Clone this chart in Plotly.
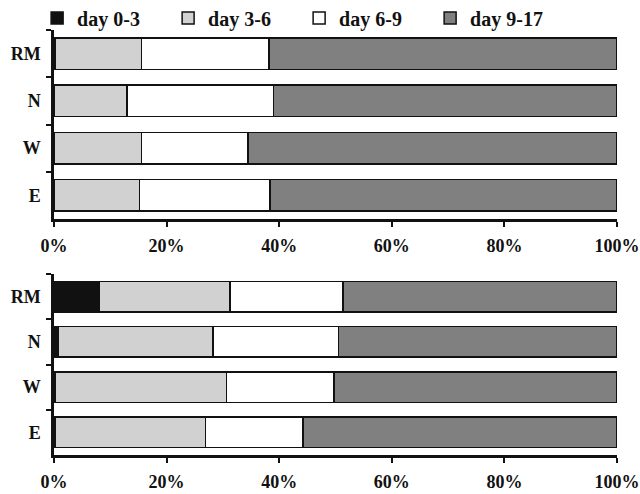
import plotly.graph_objects as go
from plotly.subplots import make_subplots

categories = ["RM", "N", "W", "E"]
series_names = ["day 0-3", "day 3-6", "day 6-9", "day 9-17"]
colors = ["#111111", "#d0d1d0", "#ffffff", "#808080"]

# top panel (% of total)
top_values = {
    "day 0-3": [0.3, 0.0, 0.0, 0.0],
    "day 3-6": [15.2, 13.0, 15.5, 15.2],
    "day 6-9": [22.7, 26.0, 19.0, 23.2],
    "day 9-17": [61.8, 61.0, 65.5, 61.6],
}
# bottom panel (% of total)
bottom_values = {
    "day 0-3": [8.0, 0.8, 0.2, 0.2],
    "day 3-6": [23.3, 27.4, 30.4, 26.7],
    "day 6-9": [20.0, 22.3, 19.1, 17.3],
    "day 9-17": [48.7, 49.5, 50.3, 55.8],
}
x_ticks = [0, 20, 40, 60, 80, 100]
x_tick_labels = ["0%", "20%", "40%", "60%", "80%", "100%"]

FONT = "Liberation Serif"
H = 494.0

fig = make_subplots(rows=2, cols=1)

for i, name in enumerate(series_names):
    for row, vals in ((1, top_values), (2, bottom_values)):
        fig.add_trace(
            go.Bar(
                y=categories, x=vals[name], name=name, orientation="h",
                marker=dict(color=colors[i], line=dict(color="#111111", width=1.5)),
                showlegend=(row == 1), legendgroup=name,
            ),
            row=row, col=1,
        )

fig.update_layout(
    barmode="stack", bargap=0.33,
    width=640, height=494,
    margin=dict(l=54, r=23, t=0, b=0, autoexpand=False),
    paper_bgcolor="white", plot_bgcolor="white",
    font=dict(family=FONT, size=18, color="#111111", weight="bold"),
    legend=dict(
        orientation="h", xref="container", x=0.058, xanchor="left",
        yref="container", y=1 - 18 / H, yanchor="middle",
        font=dict(family=FONT, size=20, weight="bold"),
        entrywidth=86, entrywidthmode="pixels", traceorder="normal",
        itemclick=False, bgcolor="rgba(0,0,0,0)",
    ),
)

axis_common_x = dict(
    range=[0, 100], tickvals=x_ticks, ticktext=x_tick_labels,
    showline=True, linecolor="#111111", linewidth=2.5,
    ticks="outside", ticklen=5, tickwidth=1.5, tickcolor="#111111",
    showgrid=False, zeroline=False, ticklabelstandoff=4, automargin=False,
    tickfont=dict(family=FONT, size=18, weight="bold"),
)
axis_common_y = dict(
    categoryorder="array", categoryarray=categories, autorange=False,
    range=[3.5, -0.5],
    showline=True, linecolor="#111111", linewidth=2.5,
    ticks="outside", tickson="boundaries", ticklen=5, tickwidth=1.5, tickcolor="#111111",
    showgrid=False, zeroline=False, ticklabelstandoff=7, automargin=False,
    tickfont=dict(family=FONT, size=18, weight="bold"),
)

fig.update_xaxes(**axis_common_x, domain=[0, 1])
fig.update_yaxes(**axis_common_y)
fig.update_yaxes(domain=[1 - 219 / H, 1 - 30 / H], row=1, col=1)
fig.update_yaxes(domain=[1 - 455 / H, 1 - 274 / H], row=2, col=1)

fig.write_html(
    "out.html",
    config={"displayModeBar": False},
    post_script="document.body.style.margin='0';document.body.style.overflow='hidden';",
)
